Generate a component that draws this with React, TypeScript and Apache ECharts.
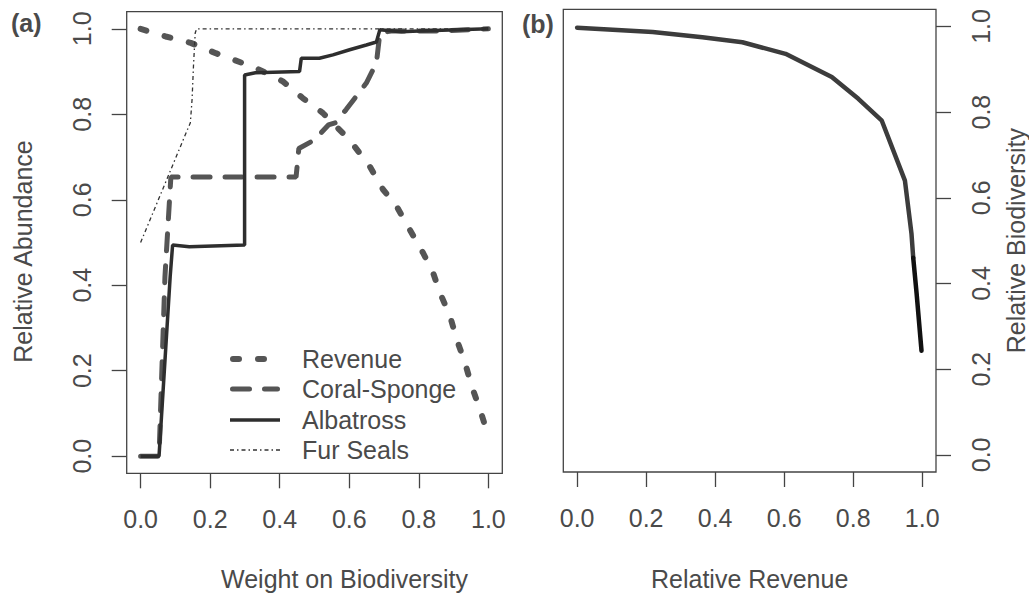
import React, { useEffect, useRef } from "react";
import * as echarts from "echarts";

// Panel (a): relative abundance vs. weight placed on biodiversity
const revenueX = [0, 0.072, 0.144, 0.216, 0.332, 0.409, 0.466, 0.524, 0.601, 0.659, 0.697, 0.736, 0.774, 0.812, 0.841, 0.861, 0.89, 0.909, 0.933, 0.952, 0.976, 1.0];
const revenueY = [1.0, 0.982, 0.967, 0.943, 0.908, 0.877, 0.838, 0.803, 0.74, 0.678, 0.624, 0.585, 0.53, 0.476, 0.429, 0.382, 0.327, 0.273, 0.218, 0.164, 0.109, 0.047];

const coralX = [0, 0.053, 0.07, 0.087, 0.447, 0.455, 0.5, 0.54, 0.56, 0.591, 0.649, 0.678, 0.688, 0.72, 0.86, 1.0];
const coralY = [0, 0, 0.42, 0.653, 0.653, 0.72, 0.74, 0.775, 0.78, 0.811, 0.873, 0.92, 0.99, 0.995, 0.995, 1.0];

const albatrossX = [0, 0.053, 0.085, 0.092, 0.14, 0.299, 0.299, 0.33, 0.457, 0.462, 0.514, 0.553, 0.601, 0.649, 0.678, 0.688, 0.75, 0.8, 1.0];
const albatrossY = [0, 0, 0.42, 0.494, 0.49, 0.494, 0.892, 0.897, 0.9, 0.931, 0.931, 0.939, 0.951, 0.962, 0.969, 0.998, 0.993, 0.995, 1.0];

const furSealX = [0, 0.13, 0.143, 0.148, 0.152, 0.157, 0.161, 1.0];
const furSealY = [0.5, 0.755, 0.78, 0.835, 0.913, 0.99, 1.0, 1.0];

// Panel (b): relative biodiversity vs. relative revenue (trade-off frontier)
const frontierX = [0, 0.219, 0.363, 0.479, 0.604, 0.738, 0.815, 0.883, 0.95, 0.969, 0.974];
const frontierY = [0.997, 0.987, 0.975, 0.963, 0.936, 0.882, 0.831, 0.78, 0.64, 0.516, 0.46];
const frontierTailX = [0.974, 0.984, 0.998];
const frontierTailY = [0.46, 0.375, 0.243];

const tickValues = [0, 0.2, 0.4, 0.6, 0.8, 1.0];
const legendNames = ["Revenue", "Coral-Sponge", "Albatross", "Fur Seals"];

const pairs = (xs: number[], ys: number[]) => xs.map((x, i) => [x, ys[i]]);

const FONT = "'Liberation Sans', Arial, sans-serif";
const FS = 25;
const TEXT = "#4a4a4a";
const AXIS = "#444";

// Line styles shared by the series and the hand-drawn key
const seriesStyles = [
  { color: "#555", width: 6, dash: [6, 19], cap: "round" },
  { color: "#555", width: 5, dash: [17, 15], cap: "round" },
  { color: "#2e2e2e", width: 3.5, dash: null, cap: "butt" },
  { color: "#333", width: 1.3, dash: [4, 3, 1.5, 3], cap: "butt" },
];
const seriesData = [
  pairs(revenueX, revenueY),
  pairs(coralX, coralY),
  pairs(albatrossX, albatrossY),
  pairs(furSealX, furSealY),
];

function axisCommon() {
  return {
    type: "value" as const,
    min: -0.04,
    max: 1.04,
    axisLine: { show: false, onZero: false },
    splitLine: { show: false },
    axisTick: {
      show: true,
      length: 15,
      customValues: tickValues,
      lineStyle: { color: AXIS, width: 1.3 },
    },
    axisLabel: {
      customValues: tickValues,
      formatter: (v: number) => v.toFixed(1),
      fontSize: FS,
      color: TEXT,
      fontFamily: FONT,
      margin: 33,
      showMinLabel: true,
      showMaxLabel: true,
    },
    nameLocation: "middle" as const,
    nameTextStyle: { fontSize: FS, color: TEXT, fontFamily: FONT },
  };
}

export default function App() {
  const ref = useRef<HTMLDivElement>(null);

  useEffect(() => {
    if (!ref.current) return;
    const chart = echarts.init(ref.current, null, { renderer: "svg" });
    const base = axisCommon();

    // Key in the lower part of panel (a)
    const keyLeft = 230;
    const keyRows = [359, 389, 420, 450];
    const keyEnds = [[233, 270], [232.5, 277.5], [230, 280], [230, 280]];
    const keyGraphics: any[] = [];
    legendNames.forEach((name, i) => {
      const s = seriesStyles[i];
      keyGraphics.push({
        type: "line",
        shape: { x1: keyEnds[i][0], y1: keyRows[i], x2: keyEnds[i][1], y2: keyRows[i] },
        style: { stroke: s.color, lineWidth: s.width, lineDash: s.dash || undefined, lineCap: s.cap },
      });
      keyGraphics.push({
        type: "text",
        x: keyLeft + 72,
        y: keyRows[i],
        style: { text: name, fontSize: FS, fontFamily: FONT, fill: TEXT, verticalAlign: "middle" },
      });
    });

    chart.setOption({
      animation: false,
      backgroundColor: "#ffffff",
      grid: [
        { left: 126.7, top: 11.7, width: 375.6, height: 461.6, show: true, borderColor: AXIS, borderWidth: 1.3, backgroundColor: "transparent" },
        { left: 563.3, top: 9.3, width: 374.4, height: 462.7, show: true, borderColor: AXIS, borderWidth: 1.3, backgroundColor: "transparent" },
      ],
      xAxis: [
        {
          ...base,
          gridIndex: 0,
          position: "bottom",
          name: "Weight on Biodiversity",
          nameGap: 93,
          nameTextStyle: { ...base.nameTextStyle, padding: [0, 0, 0, 60] },
        },
        { ...base, gridIndex: 1, position: "bottom", name: "Relative Revenue", nameGap: 94 },
      ],
      yAxis: [
        {
          ...base,
          gridIndex: 0,
          position: "left",
          name: "Relative Abundance",
          nameGap: 91,
          nameTextStyle: { ...base.nameTextStyle, padding: [0, 18, 0, 0] },
          axisLabel: { ...base.axisLabel, rotate: 90, margin: 32 },
        },
        {
          ...base,
          gridIndex: 1,
          position: "right",
          name: "Relative Biodiversity",
          nameGap: 67,
          axisLabel: { ...base.axisLabel, rotate: 90, margin: 32 },
        },
      ],
      series: [
        ...legendNames.map((name, i) => {
          const s = seriesStyles[i];
          return {
            name,
            type: "line",
            xAxisIndex: 0,
            yAxisIndex: 0,
            data: seriesData[i],
            symbol: "none",
            itemStyle: { color: s.color },
            lineStyle: { color: s.color, width: s.width, type: s.dash || "solid", cap: s.cap },
          };
        }),
        {
          name: "Frontier",
          type: "line",
          xAxisIndex: 1,
          yAxisIndex: 1,
          data: pairs(frontierX, frontierY),
          symbol: "none",
          lineStyle: { color: "#3c3c3c", width: 4.5, cap: "round" },
        },
        {
          name: "Frontier tail",
          type: "line",
          xAxisIndex: 1,
          yAxisIndex: 1,
          data: pairs(frontierTailX, frontierTailY),
          symbol: "none",
          lineStyle: { color: "#111", width: 4.5, cap: "round" },
        },
      ],
      graphic: [
        { type: "text", left: 11, top: 10, style: { text: "(a)", fontSize: FS, fontWeight: "bold", fontFamily: FONT, fill: TEXT } },
        { type: "text", left: 522, top: 11, style: { text: "(b)", fontSize: FS, fontWeight: "bold", fontFamily: FONT, fill: TEXT } },
        ...keyGraphics,
      ],
    });

    return () => chart.dispose();
  }, []);

  return (
    <div
      ref={ref}
      style={{ position: "fixed", left: 0, top: 0, width: 1029, height: 597, background: "#fff" }}
    />
  );
}
